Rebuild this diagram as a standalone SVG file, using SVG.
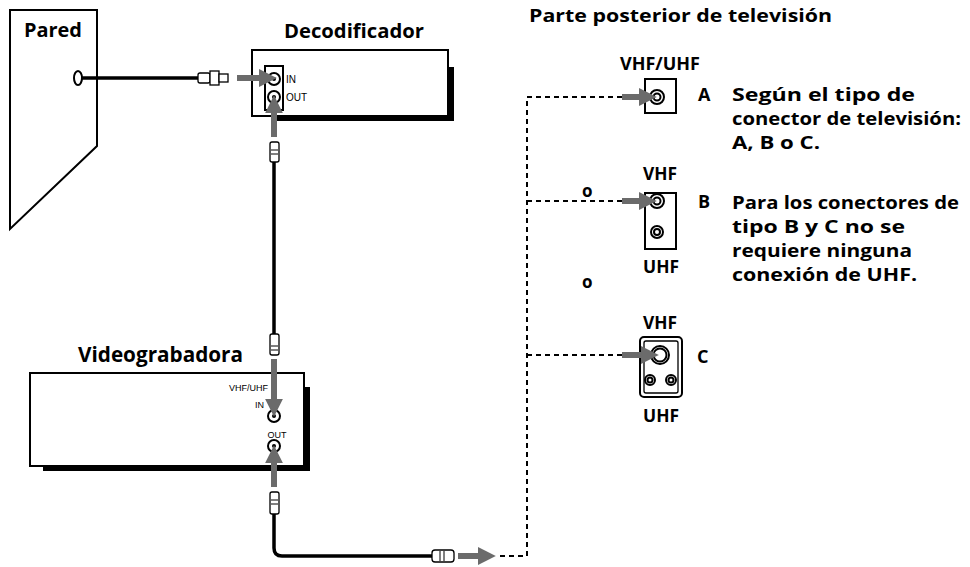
<svg xmlns="http://www.w3.org/2000/svg" width="970" height="567" viewBox="0 0 970 567">
<style>
.t{font-family:"Open Sans","Liberation Sans",Arial,sans-serif;font-weight:bold;fill:#000}
.s{font-family:"Liberation Sans",Arial,sans-serif;fill:#000}
.o{fill:#fff;stroke:#000;stroke-width:2}
.c{fill:none;stroke:#000;stroke-width:3.5}
.d{fill:none;stroke:#000;stroke-width:2;stroke-dasharray:5,4}
.g{stroke:#6b6b6b;stroke-width:6;fill:none}
.p{fill:#fff;stroke:#000;stroke-width:1.3}
</style>
<defs>
<marker id="ah" markerWidth="3" markerHeight="3" refX="1.2" refY="1.5" orient="auto"><path d="M0,0L3,1.5L0,3Z" fill="#6b6b6b"/></marker>
</defs>
<rect width="970" height="567" fill="#fff"/>
<g id="pared">
<polygon class="o" points="10,10 97,10 97,146 10,229"/>
<text class="t" x="24" y="37" font-size="19" textLength="58" lengthAdjust="spacingAndGlyphs">Pared</text>
<ellipse class="o" cx="78" cy="78" rx="4" ry="7"/>
</g>
<g id="decodificador">
<text class="t" x="284" y="38" font-size="20" textLength="140" lengthAdjust="spacingAndGlyphs">Decodificador</text>
<path d="M448,67h6v54h-177v-5h171z" fill="#000"/>
<rect class="o" x="252" y="50" width="196" height="66"/>
<rect class="o" x="265" y="66" width="18" height="44"/>
<circle class="o" cx="274" cy="79" r="6"/><circle cx="274" cy="79" r="2"/>
<circle class="o" cx="274" cy="97" r="6"/><circle cx="274" cy="97" r="2"/>
<text class="s" x="286" y="83" font-size="10">IN</text>
<text class="s" x="286" y="101" font-size="10">OUT</text>
</g>
<g id="videograbadora">
<text class="t" x="78" y="362" font-size="21" textLength="165" lengthAdjust="spacingAndGlyphs">Videograbadora</text>
<path d="M304,387h6v84h-267v-5h261z" fill="#000"/>
<rect class="o" x="30" y="373" width="274" height="93"/>
<text class="s" x="268" y="391" font-size="9" text-anchor="end">VHF/UHF</text>
<text class="s" x="264" y="408" font-size="9" text-anchor="end">IN</text>
<circle class="o" cx="274" cy="416" r="6"/><circle cx="274" cy="416" r="2"/>
<text class="s" x="277" y="438" font-size="9" text-anchor="middle">OUT</text>
<circle class="o" cx="274" cy="446" r="6"/><circle cx="274" cy="446" r="2"/>
</g>
<g id="tv">
<text class="t" x="529" y="22" font-size="17" textLength="303" lengthAdjust="spacingAndGlyphs">Parte posterior de televisión</text>
<text class="t" x="620" y="70" font-size="17" textLength="80" lengthAdjust="spacingAndGlyphs">VHF/UHF</text>
<rect class="o" x="645" y="79" width="31" height="34"/>
<circle class="o" cx="657" cy="97" r="7"/><circle class="o" cx="657" cy="97" r="3.5"/>
<text class="t" x="698" y="101" font-size="18">A</text>
<text class="t" x="582" y="197" font-size="17">o</text>
<text class="t" x="643" y="180" font-size="17" textLength="34" lengthAdjust="spacingAndGlyphs">VHF</text>
<rect class="o" x="645" y="193" width="31" height="56"/>
<circle class="o" cx="657" cy="201" r="7"/><circle class="o" cx="657" cy="201" r="3.5"/>
<circle class="o" cx="657" cy="232" r="6"/><circle class="o" cx="657" cy="232" r="3"/>
<text class="t" x="643" y="273" font-size="17" textLength="36" lengthAdjust="spacingAndGlyphs">UHF</text>
<text class="t" x="698" y="208" font-size="18">B</text>
<text class="t" x="582" y="288" font-size="17">o</text>
<text class="t" x="643" y="329" font-size="17" textLength="34" lengthAdjust="spacingAndGlyphs">VHF</text>
<rect class="o" x="640" y="337" width="42" height="60" rx="4"/>
<rect fill="none" stroke="#000" stroke-width="1.3" x="644" y="341" width="34" height="52" rx="2"/>
<circle class="o" cx="660" cy="355" r="9"/><circle class="o" cx="660" cy="355" r="6.5"/>
<circle class="o" cx="650" cy="380" r="5"/><circle class="o" cx="650" cy="380" r="2.5"/>
<circle class="o" cx="671" cy="380" r="5"/><circle class="o" cx="671" cy="380" r="2.5"/>
<text class="t" x="643" y="422" font-size="17" textLength="36" lengthAdjust="spacingAndGlyphs">UHF</text>
<text class="t" x="697" y="363" font-size="18">C</text>
<g class="t" font-size="18">
<text x="732" y="101" textLength="183" lengthAdjust="spacingAndGlyphs">Según el tipo de</text>
<text x="732" y="125" textLength="229" lengthAdjust="spacingAndGlyphs">conector de televisión:</text>
<text x="732" y="149" textLength="88" lengthAdjust="spacingAndGlyphs">A, B o C.</text>
<text x="732" y="209" textLength="227" lengthAdjust="spacingAndGlyphs">Para los conectores de</text>
<text x="732" y="233" textLength="173" lengthAdjust="spacingAndGlyphs">tipo B y C no se</text>
<text x="732" y="257" textLength="180" lengthAdjust="spacingAndGlyphs">requiere ninguna</text>
<text x="732" y="281" textLength="185" lengthAdjust="spacingAndGlyphs">conexión de UHF.</text>
</g>
</g>
<g id="connectors">
<path class="c" d="M82,78H200"/>
<rect class="p" x="198" y="73" width="12" height="10" rx="2"/>
<rect class="p" x="210" y="71" width="9" height="14"/>
<rect class="p" x="219" y="74" width="9" height="8"/>
<path class="g" d="M237,78H266" marker-end="url(#ah)"/>
<path class="g" d="M274,137V106" marker-end="url(#ah)"/>
<rect class="p" x="270" y="142" width="9" height="20" rx="2"/>
<path d="M271,150h7M271,154h7" stroke="#000"/>
<path class="c" d="M274,162V334"/>
<rect class="p" x="270" y="334" width="9" height="21" rx="2"/>
<path d="M271,346h7M271,350h7" stroke="#000"/>
<path class="g" d="M274,359V406" marker-end="url(#ah)"/>
<path class="g" d="M274,487V456" marker-end="url(#ah)"/>
<rect class="p" x="270" y="492" width="9" height="22" rx="2"/>
<path d="M271,500h7M271,504h7" stroke="#000"/>
<path class="c" d="M274,514V548Q274,556 282,556H434"/>
<rect class="p" x="432" y="550" width="22" height="12" rx="3"/>
<path d="M440,551v10M444,551v10" stroke="#000"/>
<path class="g" d="M458,556H485" marker-end="url(#ah)"/>
<path class="d" d="M500,556H527V97H625M527,201H625M527,355H625"/>
<path class="g" d="M622,97H646" marker-end="url(#ah)"/>
<path class="g" d="M622,201H646" marker-end="url(#ah)"/>
<path class="g" d="M622,355H648" marker-end="url(#ah)"/>
</g>
</svg>
